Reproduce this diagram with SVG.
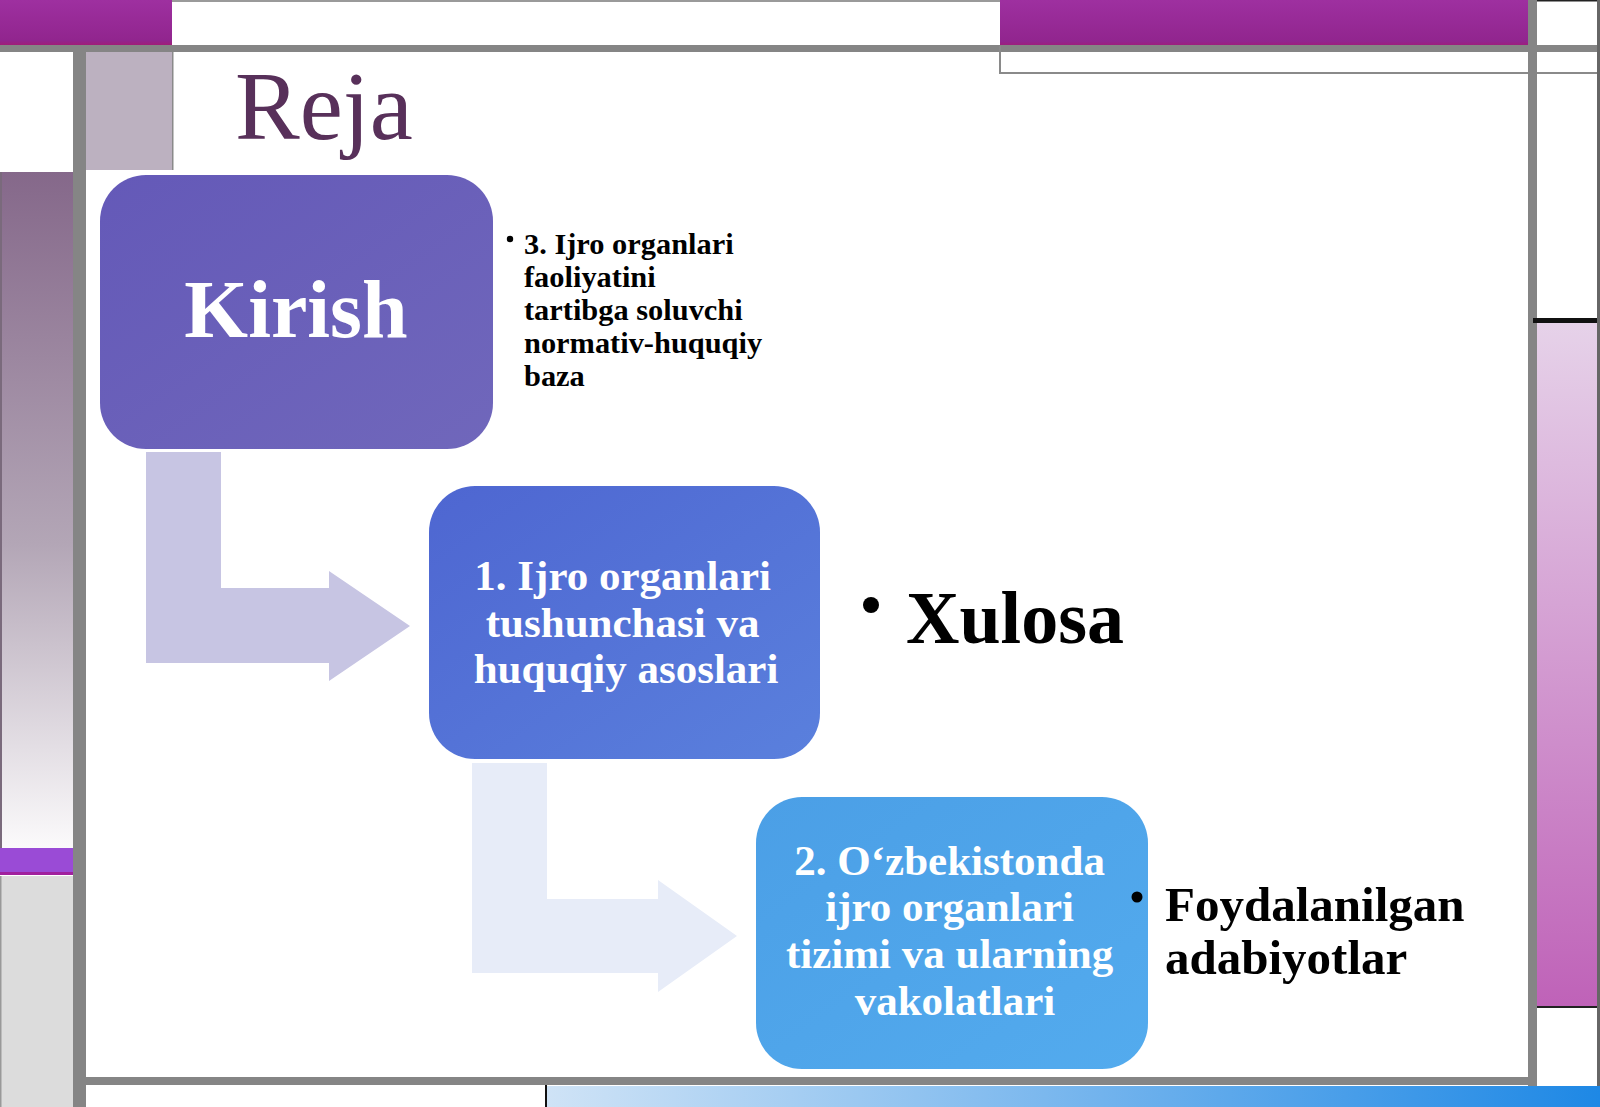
<svg xmlns="http://www.w3.org/2000/svg" width="1600" height="1107" viewBox="0 0 1600 1107">
<style>
.t{font-family:"Liberation Serif","Times New Roman",serif;font-weight:bold;}
.w{fill:#ffffff;}
.k{fill:#000000;}
.gl{fill:#858585;}
</style>
<defs>
<linearGradient id="gLeft" x1="0" y1="0" x2="0" y2="1">
<stop offset="0" stop-color="#85688a"/>
<stop offset="0.55" stop-color="#b3a6b6"/>
<stop offset="1" stop-color="#fbfafb"/>
</linearGradient>
<linearGradient id="gRight" x1="0" y1="0" x2="0" y2="1">
<stop offset="0" stop-color="#e6d2e9"/>
<stop offset="1" stop-color="#bf62b8"/>
</linearGradient>
<linearGradient id="gBottom" x1="0" y1="0" x2="1" y2="0">
<stop offset="0" stop-color="#cfe3f6"/>
<stop offset="1" stop-color="#1e88e5"/>
</linearGradient>
<linearGradient id="gMag" x1="0" y1="0" x2="0" y2="1">
<stop offset="0" stop-color="#9e30a0"/>
<stop offset="0.9" stop-color="#91258e"/>
<stop offset="1" stop-color="#a01d78"/>
</linearGradient>
<linearGradient id="gN0" x1="0" y1="0" x2="1" y2="1">
<stop offset="0" stop-color="#6459b8"/>
<stop offset="1" stop-color="#7067bb"/>
</linearGradient>
<linearGradient id="gN1" x1="0" y1="0" x2="1" y2="1">
<stop offset="0" stop-color="#4e66d1"/>
<stop offset="1" stop-color="#5a80dd"/>
</linearGradient>
<linearGradient id="gN2" x1="0" y1="0" x2="1" y2="1">
<stop offset="0" stop-color="#4b9fe6"/>
<stop offset="1" stop-color="#53abee"/>
</linearGradient>
</defs>

<!-- background frame -->
<rect x="0" y="0" width="1600" height="1107" fill="#ffffff"/>
<rect x="0" y="0" width="172" height="45" fill="url(#gMag)"/>
<rect x="1000" y="0" width="528" height="46" fill="url(#gMag)"/>
<rect x="172" y="0" width="828" height="2" fill="#9a9a9a"/>
<rect x="1537" y="0" width="63" height="1.5" fill="#222"/>
<rect x="0" y="45" width="1600" height="7" class="gl"/>
<rect x="1000" y="72" width="600" height="2" fill="#8a8a8a"/>
<rect x="999" y="46" width="2" height="28" fill="#8a8a8a"/>
<rect x="172" y="52" width="1.5" height="118" fill="#8a8a8a"/>
<rect x="86" y="52" width="86" height="118" fill="#bcb1c0"/>
<rect x="0" y="172" width="73" height="676" fill="url(#gLeft)"/>
<rect x="0" y="172" width="2" height="676" fill="#7a6a7c"/>
<rect x="0" y="848" width="73" height="25" fill="#9a4bd6"/>
<rect x="0" y="872" width="80" height="3" fill="#a0209e"/>
<rect x="0" y="876" width="73" height="231" fill="#dcdcdc"/>
<rect x="0" y="876" width="1.5" height="231" fill="#999"/>
<rect x="73" y="45" width="13" height="1062" class="gl"/>
<rect x="1528" y="0" width="9" height="1087" class="gl"/>
<rect x="1533" y="318" width="65" height="5" fill="#111"/>
<rect x="1537" y="323" width="61" height="684" fill="url(#gRight)"/>
<rect x="1537" y="1006" width="61" height="2" fill="#222"/>
<rect x="1597" y="0" width="3" height="1087" fill="#666"/>
<rect x="86" y="1077" width="1451" height="8" class="gl"/>
<rect x="547" y="1086" width="1053" height="21" fill="url(#gBottom)"/>
<rect x="545" y="1085" width="2" height="22" fill="#111"/>

<!-- title -->
<text x="235" y="139" font-family="Liberation Serif, serif" font-size="97" fill="#58305a">Reja</text>

<!-- connectors -->
<g id="connectors">
<path d="M146 452 H221 V588 H329 V571 L410 626 L329 681 V663 H146 Z" fill="#c7c5e3"/>
<path d="M472 763 H547 V899 H658 V880 L737 936 L658 992 V973 H472 Z" fill="#e7ecf8"/>
</g>

<!-- nodes -->
<g id="node-kirish">
<rect x="100" y="175" width="393" height="274" rx="46" fill="url(#gN0)"/>
<text class="t w" x="296" y="337" font-size="82" text-anchor="middle">Kirish</text>
</g>

<g id="node-1">
<rect x="429" y="486" width="391" height="273" rx="46" fill="url(#gN1)"/>
<text class="t w" font-size="43" text-anchor="middle">
<tspan x="628" y="590">1. Ijro organlari</tspan>
<tspan x="628" y="637">tushunchasi va</tspan>
<tspan x="626" y="683">huquqiy asoslari</tspan>
</text>
</g>

<g id="node-2">
<rect x="756" y="797" width="392" height="272" rx="46" fill="url(#gN2)"/>
<text class="t w" font-size="43" text-anchor="middle">
<tspan x="955" y="875">2. O‘zbekistonda</tspan>
<tspan x="955" y="921">ijro organlari</tspan>
<tspan x="955" y="968">tizimi va ularning</tspan>
<tspan x="955" y="1015">vakolatlari</tspan>
</text>
</g>

<g id="bullet-3">
<circle cx="510" cy="239" r="3.2" fill="#000"/>
<text class="t k" font-size="30.4">
<tspan x="524" y="254">3. Ijro organlari</tspan>
<tspan x="524" y="287">faoliyatini</tspan>
<tspan x="524" y="320">tartibga soluvchi</tspan>
<tspan x="524" y="353">normativ-huquqiy</tspan>
<tspan x="524" y="386">baza</tspan>
</text>
</g>

<g id="bullet-xulosa">
<circle cx="871" cy="605" r="8" fill="#000"/>
<text class="t k" x="906" y="643" font-size="74">Xulosa</text>
</g>

<g id="bullet-foydalanilgan">
<circle cx="1137" cy="897" r="5.5" fill="#000"/>
<text class="t k" font-size="49">
<tspan x="1165" y="921">Foydalanilgan</tspan>
<tspan x="1165" y="974">adabiyotlar</tspan>
</text>
</g>
</svg>
